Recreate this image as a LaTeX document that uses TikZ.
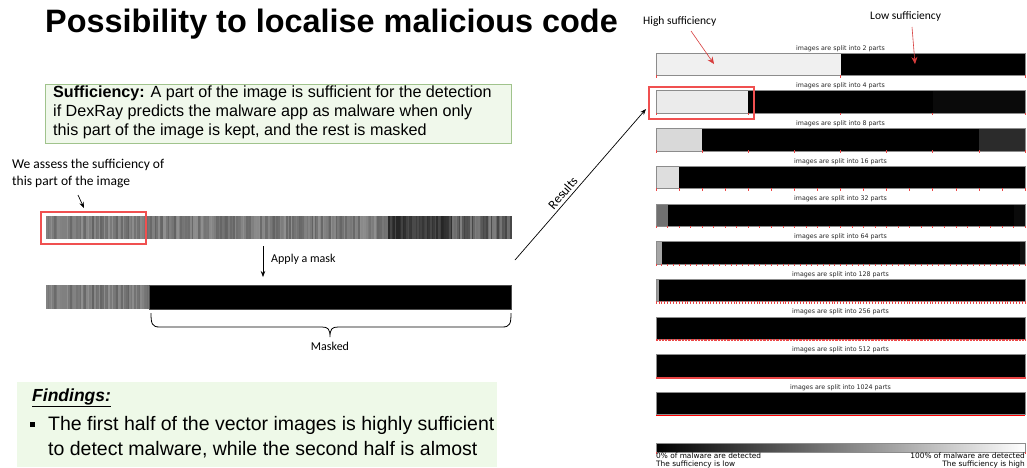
\documentclass[tikz,border=0pt]{standalone}
\usepackage{fontspec}
\setmainfont{Liberation Sans}
\newfontfamily\calfont{Carlito}
\newfontfamily\dvfont{DejaVu Sans}
\usetikzlibrary{arrows.meta}

\definecolor{boxgreen}{RGB}{240,248,235}
\definecolor{boxedge}{RGB}{160,195,140}
\definecolor{findgreen}{RGB}{238,249,232}
\definecolor{hlred}{RGB}{240,80,80}
\definecolor{arrred}{RGB}{215,60,60}
\definecolor{tickred}{RGB}{235,70,70}
\definecolor{barframe}{RGB}{140,140,140}

\tikzset{
  lbl/.style={inner sep=0, font=\calfont\fontsize{12}{14}\selectfont},
  smalllbl/.style={inner sep=0, font=\calfont\fontsize{11.5}{13}\selectfont},
  bartitle/.style={inner sep=0, anchor=base, font=\dvfont\fontsize{6.3}{7}\selectfont, text=black!85},
  cbarlbl/.style={inner sep=0, font=\dvfont\fontsize{7.4}{8.4}\selectfont},
  barbox/.style={fill=black, minimum width=369pt, minimum height=22pt, inner sep=0, anchor=north west},
  frame/.style={draw=barframe, line width=0.6pt},
  hlbox/.style={draw=hlred, line width=1.5pt, inner sep=0, anchor=north west},
  arr/.style={-{Stealth[length=6pt,width=4.5pt]}, line width=0.7pt},
  redarr/.style={-{Stealth[length=7pt,width=6pt]}, line width=0.6pt, draw=arrred},
  tick/.style={draw=tickred, line width=0.6pt}
}

\begin{document}
\begin{tikzpicture}[x=1pt,y=-1pt]
\useasboundingbox (0,0) rectangle (1027,467);
\fill[white] (0,0) rectangle (1027,467);

% ---------- title ----------
\node[inner sep=0, anchor=base west, font=\bfseries\fontsize{32.4}{36}\selectfont] (title) at (45,32) {Possibility to localise malicious code};

% ---------- definition box ----------
\node[fill=boxgreen, draw=boxedge, line width=1pt, minimum width=466pt, minimum height=59pt, inner sep=0, anchor=north west] (defbox) at (45,84) {};
\node[inner sep=0, anchor=north west, align=left, font=\fontsize{16.15}{19}\selectfont] (deftext) at (53,85.5)
  {\textbf{Sufficiency:} A part of the image is sufficient for the detection\\
   if DexRay predicts the malware app as malware when only\\
   this part of the image is kept, and the rest is masked};

% ---------- assess label ----------
\node[inner sep=0, anchor=north west, align=left, font=\calfont\fontsize{13.5}{17}\selectfont] (assess) at (12,158.5)
  {We assess the sufficiency of\\this part of the image};
\coordinate (a1) at (78,195);
\coordinate (a2) at (84,208);
\draw[arr] (a1) -- (a2);

% ---------- strip 1 ----------
\node[minimum width=465pt, minimum height=23pt, inner sep=0, anchor=north west] (strip1) at (46,216) {};
\pgfmathsetseed{4242}
\foreach \i in {0,...,290}{
  \pgfmathsetmacro\xa{46+\i*1.6}
  \pgfmathsetmacro\ra{rnd}
  \pgfmathtruncatemacro\g{\xa<387 ? 44+18*\ra : (\xa<452 ? 70+16*\ra : 50+24*\ra)}
  \fill[black!\g] (\xa,216) rectangle ++(1.7,23);
}
\node[hlbox, minimum width=105pt, minimum height=32pt] (sel) at (40,211) {};

% ---------- mask arrow ----------
\coordinate (m1) at (263,246);
\coordinate (m2) at (263,277);
\draw[arr] (m1) -- (m2);
\node[lbl, anchor=base west] (apply) at (271,262) {Apply a mask};

% ---------- strip 2 ----------
\node[minimum width=465pt, minimum height=24pt, inner sep=0, anchor=north west] (strip2) at (46,285) {};
\pgfmathsetseed{4242}
\foreach \i in {0,...,64}{
  \pgfmathsetmacro\xa{46+\i*1.6}
  \pgfmathsetmacro\ra{rnd}
  \pgfmathtruncatemacro\g{\xa<387 ? 44+18*\ra : (\xa<452 ? 70+16*\ra : 50+24*\ra)}
  \fill[black!\g] (\xa,285) rectangle ++(1.7,24);
}
\node[fill=black, draw=black!70, line width=0.5pt, minimum width=362pt, minimum height=24pt, inner sep=0, anchor=north west] (mask) at (149,285) {};

% ---------- brace ----------
\draw[line width=0.8pt] (151,313) .. controls (151,324) and (152,327) .. (160,327) -- (322,327)
  .. controls (328,327) and (330,329) .. (330,337)
  .. controls (330,329) and (332,327) .. (338,327) -- (502,327)
  .. controls (510,327) and (511,324) .. (511,313);
\node[lbl, anchor=base] (masked) at (330,350) {Masked};

% ---------- results arrow ----------
\coordinate (r1) at (515,260);
\coordinate (r2) at (646,109);
\draw[arr] (r1) -- node[pos=0.41, sloped, above=3pt, lbl, font=\calfont\fontsize{13}{15}\selectfont] (results) {Results} (r2);

% ---------- findings ----------
\node[fill=findgreen, minimum width=480pt, minimum height=85pt, inner sep=0, anchor=north west] (findbox) at (17,382) {};
\node[inner sep=0, anchor=base west, font=\bfseries\itshape\fontsize{17.5}{20}\selectfont] (findhead) at (32,401) {\underline{Findings:}};
\node[fill=black, minimum size=5pt, inner sep=0] (bullet) at (32,424) {};
\node[inner sep=0, anchor=base west, font=\fontsize{19.5}{24}\selectfont] (find1) at (48,430) {The first half of the vector images is highly sufficient};
\node[inner sep=0, anchor=base west, font=\fontsize{19.5}{24}\selectfont] (find2) at (48,455) {to detect malware, while the second half is almost};

% ---------- bars ----------
\foreach \k/\n in {1/2,2/4,3/8,4/16,5/32,6/64,7/128,8/256,9/512,10/1024}{
  \pgfmathsetmacro\ytop{53+(\k-1)*37.7}
  \node[barbox] (bar\k) at (656,\ytop) {};
  \node[bartitle] (title\k) at (840.5,\ytop-3) {images are split into \n\ parts};
}
% sufficient segments
\fill[black!6]  (bar1.north west) rectangle ([xshift=184.5pt]bar1.south west);
\fill[black!8]  (bar2.north west) rectangle ([xshift=92.25pt]bar2.south west);
\fill[black!96] ([xshift=-92.25pt]bar2.north east) rectangle (bar2.south east);
\fill[black!15] (bar3.north west) rectangle ([xshift=46.1pt]bar3.south west);
\fill[black!83] ([xshift=-46.1pt]bar3.north east) rectangle (bar3.south east);
\fill[black!13] (bar4.north west) rectangle ([xshift=23.06pt]bar4.south west);
\fill[black!56] (bar5.north west) rectangle ([xshift=11.53pt]bar5.south west);
\fill[black!96] ([xshift=-11.53pt]bar5.north east) rectangle (bar5.south east);
\fill[black!35] (bar6.north west) rectangle ([xshift=5.77pt]bar6.south west);
\fill[black!94] ([xshift=-5.77pt]bar6.north east) rectangle (bar6.south east);
\fill[black!40] (bar7.north west) rectangle ([xshift=2.88pt]bar7.south west);
\foreach \k in {1,...,10}{
  \draw[frame] (bar\k.north west) rectangle (bar\k.south east);
}
% ticks
\foreach \k/\n in {1/2,2/4,3/8,4/16,5/32,6/64,7/128}{
  \pgfmathsetmacro\ybot{53+(\k-1)*37.7+22}
  \pgfmathsetmacro\dx{369/\n}
  \foreach \j in {0,...,\n}{
    \pgfmathsetmacro\xx{656+\j*\dx}
    \draw[tick] (\xx,\ybot) -- ++(0,2.5);
  }
}
\draw[tickred, line width=2pt, dash pattern=on 0.7pt off 0.74pt] ([yshift=-1pt]bar8.south west) -- ([yshift=-1pt]bar8.south east);
\draw[tickred, line width=1.6pt, dash pattern=on 0.4pt off 0.32pt] ([yshift=-0.8pt]bar9.south west) -- ([yshift=-0.8pt]bar9.south east);
\draw[red, line width=1.4pt] ([yshift=-0.7pt]bar10.south west) -- ([yshift=-0.7pt]bar10.south east);

% highlight on bar 2
\node[hlbox, minimum width=105pt, minimum height=32pt] (selbar) at (648,86) {};

% ---------- right panel labels ----------
\node[smalllbl, anchor=base west] (high) at (643,24) {High sufficiency};
\node[smalllbl, anchor=base west] (low) at (870,19) {Low sufficiency};
\coordinate (h1) at (691,31);
\coordinate (h2) at (714,64);
\coordinate (l1) at (912,27);
\coordinate (l2) at (915,64);
\draw[redarr] (h1) -- (h2);
\draw[redarr] (l1) -- (l2);

% ---------- colour bar ----------
\node[minimum width=369pt, minimum height=9pt, inner sep=0, anchor=north west] (cbar) at (656,443) {};
\shade[left color=black, right color=white] (cbar.north west) rectangle (cbar.south east);
\draw[frame] (cbar.north west) rectangle (cbar.south east);
\draw[tick] (cbar.south west) -- ++(0,2);
\draw[tick] (cbar.south east) -- ++(0,2);
\node[cbarlbl, anchor=north west, align=left] (cleft) at (656,452.6) {0\% of malware are detected\\The sufficiency is low};
\node[cbarlbl, anchor=north east, align=right] (cright) at (1025,452.6) {100\% of malware are detected\\The sufficiency is high};

\end{tikzpicture}
\end{document}
